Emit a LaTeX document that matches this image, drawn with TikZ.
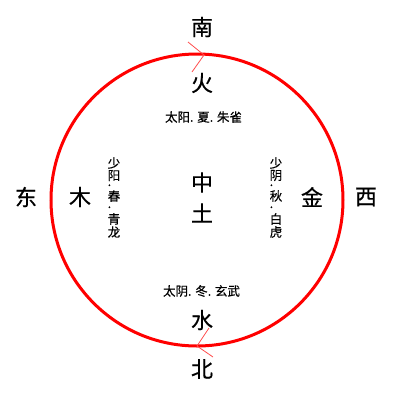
\documentclass[tikz,border=0pt]{standalone}
\usepackage{fontspec}
\newfontfamily\cjk[FakeBold=0.5]{Noto Sans CJK SC}
\begin{document}
\begin{tikzpicture}[x=1pt,y=-1pt,
  big/.style={font=\cjk\fontsize{22}{22}\selectfont, inner sep=0pt},
  small/.style={font=\cjk\fontsize{12.5}{12.5}\selectfont, inner sep=0pt},
  vch/.style={font=\cjk\fontsize{12.5}{12.5}\selectfont, inner sep=0pt},
  vdot/.style={font=\cjk\fontsize{12.5}{12.5}\selectfont, inner sep=0pt, text height=1.5pt, text depth=0pt, anchor=base west},
  ring/.style={draw=red, line width=3pt},
  chev/.style={draw=red!70, line width=0.8pt}]
\useasboundingbox (0,0) rectangle (400,400);
\node[circle, minimum size=292pt, inner sep=0pt, ring] (c) at (197,200) {};
% chevrons
\coordinate (t1) at (188,42);
\coordinate (t2) at (204,55);
\coordinate (t3) at (192,72);
\draw[chev] (t1) -- (t2) -- (t3);
\coordinate (b1) at (209,328);
\coordinate (b2) at (197,346);
\coordinate (b3) at (213,357);
\draw[chev] (b1) -- (b2) -- (b3);
% labels
\node[big] (nan) at (202,27) {南};
\node[big] (huo) at (202,83) {火};
\node[small] (xia) at (203.5,117) {太阳. 夏. 朱雀};
\node[big] (zhong) at (202,182.5) {中};
\node[big] (tu) at (202,213) {土};
\node[big] (dong) at (26,197) {东};
\node[big] (mu) at (80,197) {木};
\node[big] (jin) at (312,197) {金};
\node[big] (xi) at (366,197) {西};
\node[small] (dongt) at (201.5,291) {太阴. 冬. 玄武};
\node[big] (shui) at (202,320) {水};
\node[big] (bei) at (202,369) {北};
% vertical text, east
\node[vch] (e1) at (114,163) {少};
\node[vch] (e2) at (114,175.5) {阳};
\node[vdot] (e3) at (107.5,186) {.};
\node[vch] (e4) at (114,196) {春};
\node[vdot] (e5) at (107.5,208) {.};
\node[vch] (e6) at (114,219) {青};
\node[vch] (e7) at (114,232) {龙};
% vertical text, west
\node[vch] (w1) at (276,163) {少};
\node[vch] (w2) at (276,175.5) {阴};
\node[vdot] (w3) at (269.5,186) {.};
\node[vch] (w4) at (276,196) {秋};
\node[vdot] (w5) at (269.5,208) {.};
\node[vch] (w6) at (276,219) {白};
\node[vch] (w7) at (276,232) {虎};
\end{tikzpicture}
\end{document}
